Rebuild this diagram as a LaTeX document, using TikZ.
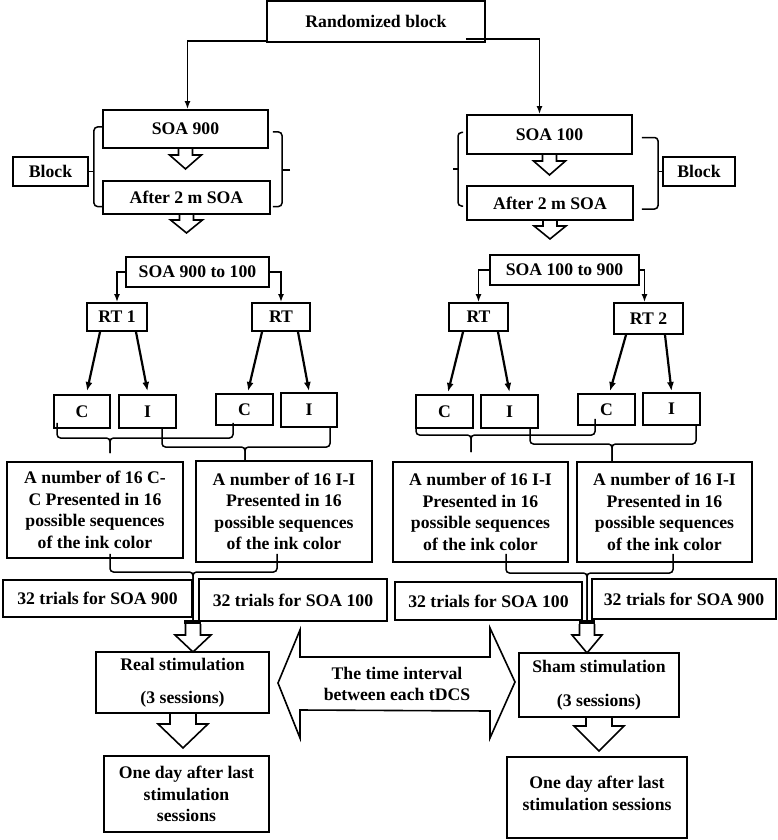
\documentclass[tikz,border=0pt]{standalone}
\usepackage{fontspec}
\setmainfont{Liberation Serif}
\usetikzlibrary{arrows.meta,calc}
\tikzset{
 box/.style={draw, line width=1.9pt, inner sep=2pt, align=center, font=\fontsize{17.7pt}{21.5pt}\selectfont\bfseries},
 txt/.style={inner sep=0pt, align=center, font=\fontsize{17.7pt}{21.5pt}\selectfont\bfseries},
 conn/.style={line width=1.5pt},
 arr/.style={conn, -{Latex[length=8pt,width=6pt]}},
 rtarr/.style={line width=2.2pt, -{Latex[length=9pt,width=7pt]}},
 harrow/.style={line width=1.6pt, line join=miter},
 brace/.style={conn, rounded corners=3.5pt},
}
\newcommand\HollowArrow[5]{\draw[harrow] #1 ++({-#2},0) -- ++(0,#3) -- ++({#2-#4},0) -- ++(#4,{#5-#3}) -- ++(#4,{-(#5-#3)}) -- ++({#2-#4},0) -- ++(0,{-#3});}
\newcommand\BraceJoin[5]{\draw[brace] #1 |- (#4,#3) -- (#4,#5);\draw[brace] #2 |- (#4,#3) -- (#4,#5);}
\begin{document}
\begin{tikzpicture}[x=1pt,y=-1pt]
\useasboundingbox (0,0) rectangle (778,840);
\fill[white] (0,0) rectangle (778,840);

% top
\node[box, minimum width=218pt, minimum height=41pt] (rb) at (376,21.5) {Randomized block};

% left upper block
\node[box, minimum width=165pt, minimum height=38pt] (s9) at (185.5,129) {SOA 900};
\node[box, minimum width=167pt, minimum height=33pt] (a9) at (186.5,197.5) {After 2 m SOA};
\node[box, minimum width=75pt, minimum height=29pt] (blkL) at (50.5,171.5) {Block};
% right upper block
\node[box, minimum width=165pt, minimum height=39pt] (s1) at (549.5,134.5) {SOA 100};
\node[box, minimum width=166pt, minimum height=34pt] (a1) at (550,203) {After 2 m SOA};
\node[box, minimum width=72pt, minimum height=29pt] (blkR) at (699,171.5) {Block};

\draw[arr] ([yshift=2pt]rb.south west) -| ([xshift=2pt]s9.north);
\draw[arr] ([xshift=-20pt,yshift=4pt]rb.south east) -| ([xshift=-10pt]s1.north);

\HollowArrow{(s9.south)}{7}{6}{16}{20}
\HollowArrow{(a9.south)}{7}{5}{16}{18}
\HollowArrow{(s1.south)}{7}{6}{16}{20}
\HollowArrow{(a1.south)}{7}{5}{16}{18}

% brackets
\draw[brace] ([yshift=2pt]s9.west) -| ([xshift=5pt]blkL.east) |- ([yshift=-9pt]a9.west);
\draw[conn] (blkL.east) -- ++(5,0);
\coordinate (nubL) at (290,170);
\draw[brace] ([xshift=4pt,yshift=-3pt]s9.east) -| ([xshift=-8pt]nubL) |- ([xshift=2pt,yshift=-9pt]a9.east);
\draw[conn] (nubL) -- ++(-8,0);
\coordinate (nubR) at (453,169);
\draw[brace] ([xshift=-3pt,yshift=2pt]s1.west) -| ([xshift=5pt]nubR) |- ([xshift=-3pt,yshift=-3pt]a1.west);
\draw[conn] (nubR) -- ++(5,0);
\draw[brace] ([xshift=9pt,yshift=-3pt]s1.east) -| ([xshift=-4pt]blkR.west) |- ([xshift=8pt,yshift=-6pt]a1.east);
\draw[conn] (blkR.west) -- ++(-4,0);

% left middle
\node[box, minimum width=143pt, minimum height=30pt] (sL) at (197.5,272) {SOA 900 to 100};
\node[box, minimum width=60pt, minimum height=28pt] (rt1) at (117,317) {RT 1};
\node[box, minimum width=58pt, minimum height=28pt] (rta) at (281,317) {RT};
\draw[arr] (sL.west) -| (rt1.north);
\draw[arr] (sL.east) -| (rta.north);
\node[box, minimum width=56pt, minimum height=33pt] (cA) at (82,411.5) {C};
\node[box, minimum width=57pt, minimum height=33pt] (iA) at (147.5,411.5) {I};
\node[box, minimum width=57pt, minimum height=31pt] (cB) at (244.5,409.5) {C};
\node[box, minimum width=56pt, minimum height=34pt] (iB) at (309,410) {I};
\draw[rtarr] ([xshift=-17pt]rt1.south) -- ([xshift=5pt,yshift=3pt]cA.north);
\draw[rtarr] ([xshift=19pt]rt1.south) -- ([yshift=3pt]iA.north);
\draw[rtarr] ([xshift=-19pt]rta.south) -- ([xshift=3.5pt,yshift=2pt]cB.north);
\draw[rtarr] ([xshift=17pt]rta.south) -- ([yshift=1pt]iB.north);

% right middle
\node[box, minimum width=149pt, minimum height=30pt] (sR) at (564.5,270) {SOA 100 to 900};
\node[box, minimum width=59pt, minimum height=28pt] (rtb) at (478.5,317) {RT};
\node[box, minimum width=69pt, minimum height=31pt] (rt2) at (648.5,318.5) {RT 2};
\draw[arr] (sR.west) -| (rtb.north);
\draw[arr] (sR.east) -| ([xshift=-4pt]rt2.north);
\node[box, minimum width=57pt, minimum height=33pt] (cC) at (444.5,411.5) {C};
\node[box, minimum width=57pt, minimum height=33pt] (iC) at (509.5,411.5) {I};
\node[box, minimum width=57pt, minimum height=31pt] (cD) at (606.5,409.5) {C};
\node[box, minimum width=57pt, minimum height=32pt] (iD) at (671.5,409) {I};
\draw[rtarr] ([xshift=-15.5pt]rtb.south) -- ([xshift=3.5pt,yshift=2pt]cC.north);
\draw[rtarr] ([xshift=19.5pt]rtb.south) -- ([yshift=2pt]iC.north);
\draw[rtarr] ([xshift=-22.5pt]rt2.south) -- ([xshift=3.5pt,yshift=2pt]cD.north);
\draw[rtarr] ([xshift=16.5pt]rt2.south) -- ([yshift=1pt]iD.north);

% big boxes
\node[box, minimum width=176pt, minimum height=96pt] (bA) at (95,510) {A number of 16 C-\\C Presented in 16\\possible sequences\\of the ink color};
\node[box, minimum width=176pt, minimum height=101pt] (bB) at (284,511.5) {A number of 16 I-I\\Presented in 16\\possible sequences\\of the ink color};
\node[box, minimum width=175pt, minimum height=100pt] (bC) at (480.5,512) {A number of 16 I-I\\Presented in 16\\possible sequences\\of the ink color};
\node[box, minimum width=175pt, minimum height=100pt] (bD) at (664.5,512) {A number of 16 I-I\\Presented in 16\\possible sequences\\of the ink color};

% braces C/I -> big boxes
\BraceJoin{([xshift=4pt,yshift=6pt]cA.south west)}{([xshift=-11.5pt,yshift=3pt]cB.south)}{438}{110}{453}
\BraceJoin{([xshift=14.5pt]iA.south)}{([xshift=21pt]iB.south)}{447}{245}{461}
\BraceJoin{([xshift=1pt,yshift=8pt]cC.south west)}{([xshift=-11.5pt,yshift=7pt]cD.south)}{435}{471}{452}
\BraceJoin{([xshift=20.5pt]iC.south)}{([xshift=24.5pt]iD.south)}{444}{612}{462}

% trial boxes
\node[box, minimum width=189pt, minimum height=37pt] (tA) at (97.5,598.5) {32 trials for SOA 900};
\node[box, minimum width=188pt, minimum height=42pt] (tB) at (293,600) {32 trials for SOA 100};
\node[box, minimum width=187pt, minimum height=38pt] (tC) at (488.5,601) {32 trials for SOA 100};
\node[box, minimum width=184pt, minimum height=40pt] (tD) at (684,599) {32 trials for SOA 900};

% junctions
\coordinate (jL) at (193,622);
\coordinate (jR) at (587,622);
\BraceJoin{([xshift=15pt,yshift=5pt]bA.south)}{([xshift=-7pt,yshift=9pt]bB.south)}{572}{193}{620}
\BraceJoin{([xshift=25.5pt,yshift=9pt]bC.south)}{([xshift=8.5pt,yshift=9pt]bD.south)}{573}{587}{620}
\fill ([xshift=-9pt,yshift=2pt]jL) rectangle ([xshift=8pt,yshift=-2pt]jL);
\fill ([xshift=-8pt,yshift=2pt]jR) rectangle ([xshift=8pt,yshift=-2pt]jR);
\HollowArrow{([yshift=-2pt]jL)}{7.5}{11}{18}{28}
\HollowArrow{([yshift=-2pt]jR)}{7.5}{11}{15}{29}

% stimulation
\node[box, minimum width=173pt, minimum height=61pt] (rs) at (182.5,682.5) {Real stimulation\\[11pt](3 sessions)};
\node[box, minimum width=160pt, minimum height=64pt] (ss) at (599,685) {Sham stimulation\\[12pt](3 sessions)};
\HollowArrow{([xshift=0.5pt]rs.south)}{13}{10}{25}{34}
\HollowArrow{(ss.south)}{13}{8}{25}{33}
\node[box, minimum width=165pt, minimum height=76pt] (od1) at (186.5,794) {One day after last\\stimulation\\sessions};
\node[box, minimum width=180pt, minimum height=81pt] (od2) at (597,797.5) {One day after last\\stimulation sessions\\[-13pt]\mbox{}};

% double arrow
\draw[harrow] (278,683) -- (300,630) -- (300,657) -- (490,657) -- (490,628) -- (515,682) -- (490,738) -- (490,711) -- (300,710) -- (300,738) -- cycle;
\node[txt] (ti) at (397,684) {The time interval\\between each tDCS};
\end{tikzpicture}
\end{document}
